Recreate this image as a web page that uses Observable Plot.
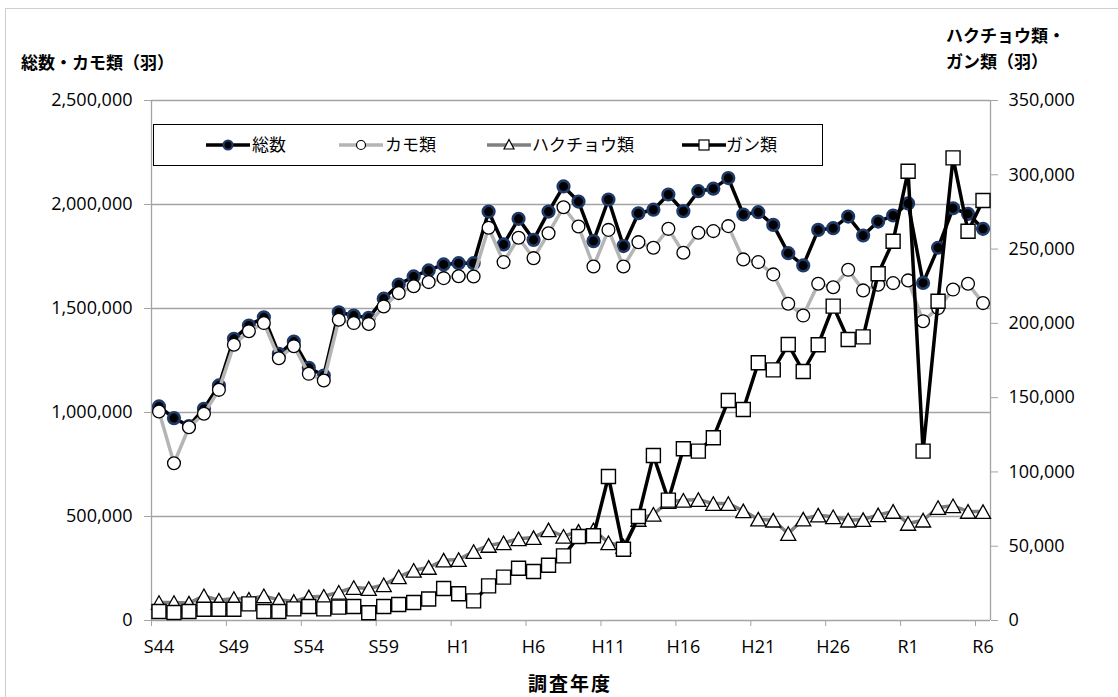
<!DOCTYPE html>
<html><head><meta charset="utf-8">
<script src="https://cdn.jsdelivr.net/npm/d3@7"></script>
<script src="https://cdn.jsdelivr.net/npm/@observablehq/plot@0.6"></script>
<style>
body{margin:0;background:#fff;}
#wrap{position:relative;width:1118px;height:697px;overflow:hidden;}
#border{position:absolute;left:5px;top:8px;width:1130px;height:720px;border:1px solid #cfcfcf;box-sizing:border-box;}
#chart{position:absolute;left:0;top:0;}
.t{position:absolute;font-family:"Noto Sans CJK JP",sans-serif;font-weight:bold;font-size:17px;color:#000;white-space:nowrap;line-height:26px;}
#legend{position:absolute;left:153px;top:124px;width:670px;height:42px;border:1.5px solid #000;background:#fff;box-sizing:border-box;font-family:"Noto Sans CJK JP",sans-serif;font-size:17px;}
#legend svg{position:absolute;top:10px;}
#legend span{position:absolute;top:6px;line-height:26px;white-space:nowrap;}
</style></head>
<body>
<div id="wrap">
<div id="border"></div>
<div id="chart"></div>
<div class="t" style="left:21px;top:49px;">総数・カモ類（羽）</div>
<div class="t" style="left:946px;top:22px;">ハクチョウ類・</div>
<div class="t" style="left:946px;top:48px;">ガン類（羽）</div>
<div class="t" style="left:0;width:1140px;text-align:center;top:670px;font-size:19px;letter-spacing:2px;">調査年度</div>
<div id="legend"></div>
</div>
<script>
const years = [1969,1970,1971,1972,1973,1974,1975,1976,1977,1978,1979,1980,1981,1982,1983,1984,1985,1986,1987,1988,1989,1990,1991,1992,1993,1994,1995,1996,1997,1998,1999,2000,2001,2002,2003,2004,2005,2006,2007,2008,2009,2010,2011,2012,2013,2014,2015,2016,2017,2018,2019,2020,2021,2022,2023,2024];
const total = [1029000,973000,935000,1018000,1130000,1354000,1418000,1458000,1282000,1341000,1215000,1178000,1482000,1466000,1455000,1547000,1615000,1654000,1683000,1712000,1718000,1718000,1966000,1808000,1931000,1830000,1966000,2087000,2014000,1824000,2024000,1800000,1958000,1975000,2048000,1968000,2064000,2076000,2127000,1952000,1963000,1902000,1766000,1707000,1878000,1886000,1942000,1851000,1918000,1947000,2005000,1623000,1792000,1982000,1955000,1883000];
const kamo = [1005000,756000,929000,994000,1109000,1326000,1391000,1430000,1261000,1319000,1186000,1154000,1446000,1430000,1426000,1510000,1574000,1607000,1627000,1646000,1655000,1654000,1888000,1723000,1840000,1742000,1862000,1987000,1894000,1702000,1878000,1702000,1819000,1792000,1883000,1768000,1864000,1872000,1896000,1736000,1723000,1664000,1523000,1466000,1619000,1602000,1686000,1587000,1614000,1622000,1635000,1439000,1502000,1591000,1619000,1526000];
const swan = [12100,12100,11700,16600,13600,14800,14300,16600,13900,12800,15900,16300,19000,22200,21500,24000,29400,33800,35700,40600,41000,46400,50500,52300,55000,55800,61000,56700,60000,61000,52300,50000,68000,71500,80000,80900,81400,78700,78700,73800,68200,67500,58500,68200,70900,69800,67500,67900,71100,73400,65300,67500,76000,77200,73400,73300];
const goose = [6060,5400,6060,7600,7600,7600,11200,6060,6060,7850,9400,7850,9000,9400,5200,9400,10800,12100,14500,21500,18000,13200,23300,29200,35200,33000,37200,43500,56500,57000,96900,48000,70000,111100,81000,115600,114000,123000,148100,142000,173500,168700,185800,167600,185600,211600,189100,190900,233400,255300,302400,114000,214900,311400,262000,282700];

const tickYears = [1969,1974,1979,1984,1989,1994,1999,2004,2009,2014,2019,2024];
const tickLabels = ["S44","S49","S54","S59","H1","H6","H11","H16","H21","H26","R1","R6"];
const leftTicks = [0,500000,1000000,1500000,2000000,2500000];
const rightTicks = [0,50000,100000,150000,200000,250000,300000,350000];
const seriesNames = ["総数","カモ類","ハクチョウ類","ガン類"];

const LEFT_MAX = 2500000, RIGHT_MAX = 350000;
const RATIO = LEFT_MAX / RIGHT_MAX;
const rows = years.map((y, i) => ({year: y, total: total[i], kamo: kamo[i], swan: swan[i] * RATIO, goose: goose[i] * RATIO}));
const tickBounds = tickYears.map(y => y - 0.5);
const fmt = d3.format(",");

const tri = {draw(ctx, size) {
  const r = Math.sqrt(size / Math.PI);
  const w = r * 1.3, h = r * 1.17;
  ctx.moveTo(0, -h); ctx.lineTo(w, h); ctx.lineTo(-w, h); ctx.closePath();
}};

const AX = "#a3a3a3";
const chart = Plot.plot({
  width: 1118, height: 697,
  marginLeft: 151, marginRight: 128, marginTop: 100, marginBottom: 77,
  x: {type: "linear", domain: [years[0] - 0.5, years[years.length - 1] + 0.5], axis: null},
  y: {domain: [0, LEFT_MAX], axis: null},
  style: {fontFamily: "'Open Sans', sans-serif", fontSize: "18px", color: "#000", background: "transparent"},
  marks: [
    Plot.ruleY(leftTicks, {stroke: AX, strokeWidth: 1.3}),
    Plot.ruleX([years[0] - 0.5, years[years.length - 1] + 0.5], {stroke: AX, strokeWidth: 1.3}),
    Plot.axisY(leftTicks, {anchor: "left", label: null, tickSize: 7, tickPadding: 12, tickFormat: fmt, stroke: AX, fill: "#000"}),
    Plot.axisY(rightTicks.map(v => v * RATIO), {anchor: "right", label: null, tickSize: 7, tickPadding: 11, tickFormat: d => fmt(Math.round(d / RATIO)), stroke: AX, fill: "#000"}),
    Plot.axisX(tickBounds, {anchor: "bottom", label: null, tickSize: 6, tickFormat: () => "", stroke: AX}),
    Plot.axisX(tickYears, {anchor: "bottom", label: null, tickSize: 0, tickPadding: 20, tickFormat: (d, i) => tickLabels[i], fill: "#000"}),
    Plot.line(rows, {x: "year", y: "total", stroke: "#000", strokeWidth: 3.5, strokeLinejoin: "round"}),
    Plot.dot(rows, {x: "year", y: "total", r: 5.8, fill: "#000", stroke: "#1f3a68", strokeWidth: 2.6}),
    Plot.line(rows, {x: "year", y: "kamo", stroke: "#b5b5b5", strokeWidth: 3.5, strokeLinejoin: "round"}),
    Plot.dot(rows, {x: "year", y: "kamo", r: 6.4, fill: "#fff", stroke: "#000", strokeWidth: 1.3}),
    Plot.line(rows, {x: "year", y: "swan", stroke: "#808080", strokeWidth: 3.5, strokeLinejoin: "round"}),
    Plot.dot(rows, {x: "year", y: "swan", r: 5.8, symbol: tri, fill: "#fff", stroke: "#000", strokeWidth: 1.3}),
    Plot.line(rows, {x: "year", y: "goose", stroke: "#000", strokeWidth: 3.5, strokeLinejoin: "round"}),
    Plot.dot(rows, {x: "year", y: "goose", r: 7.9, symbol: "square", fill: "#fff", stroke: "#000", strokeWidth: 1.4})
  ]
});
document.getElementById("chart").appendChild(chart);

// legend
const legendDefs = [
  {name: seriesNames[0], line: "#000", marker: "circle", fill: "#000", stroke: "#1f3a68", sw: 2.2, lx: 51, tx: 98},
  {name: seriesNames[1], line: "#b5b5b5", marker: "circle", fill: "#fff", stroke: "#000", sw: 1.2, lx: 184, tx: 231},
  {name: seriesNames[2], line: "#808080", marker: "triangle", fill: "#fff", stroke: "#000", sw: 1.2, lx: 332, tx: 378},
  {name: seriesNames[3], line: "#000", marker: "square", fill: "#fff", stroke: "#000", sw: 1.2, lx: 527, tx: 572}
];
const leg = document.getElementById("legend");
legendDefs.forEach(d => {
  const s = d3.create("svg").attr("width", 46).attr("height", 20).style("left", d.lx + "px");
  s.append("line").attr("x1", 1).attr("x2", 45).attr("y1", 10).attr("y2", 10).attr("stroke", d.line).attr("stroke-width", 3.5);
  if (d.marker === "circle") s.append("circle").attr("cx", 23).attr("cy", 10).attr("r", 4.5).attr("fill", d.fill).attr("stroke", d.stroke).attr("stroke-width", d.sw);
  else if (d.marker === "triangle") s.append("path").attr("d", "M23,4.5L28,14L18,14Z").attr("fill", d.fill).attr("stroke", d.stroke).attr("stroke-width", d.sw);
  else s.append("rect").attr("x", 18).attr("y", 5).attr("width", 10).attr("height", 10).attr("fill", d.fill).attr("stroke", d.stroke).attr("stroke-width", d.sw);
  leg.appendChild(s.node());
  const sp = document.createElement("span");
  sp.textContent = d.name; sp.style.left = d.tx + "px";
  leg.appendChild(sp);
});
</script>
</body></html>
